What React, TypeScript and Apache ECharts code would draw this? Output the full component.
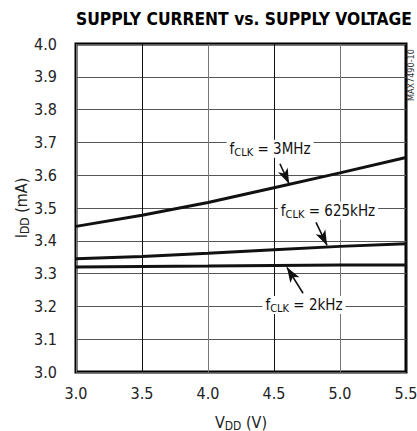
import React, { useEffect, useRef } from "react";
import * as echarts from "echarts";

const vdd = [3.0, 3.5, 4.0, 4.5, 5.0, 5.5];
const i3MHz = [3.444, 3.478, 3.517, 3.562, 3.607, 3.654];
const i625kHz = [3.345, 3.352, 3.362, 3.373, 3.383, 3.391];
const i2kHz = [3.32, 3.322, 3.323, 3.325, 3.326, 3.326];
const seriesNames = ["3MHz", "625kHz", "2kHz"];
// annotation anchors in data units: [labelV, labelI, arrowFromV, arrowFromI, arrowToV, arrowToI]
const annotations = [
  [4.47, 3.681, 4.545, 3.635, 4.614, 3.574],
  [4.909, 3.492, 4.818, 3.456, 4.902, 3.386],
  [4.727, 3.204, 4.72, 3.24, 4.598, 3.319],
];

const FONT = "'DejaVu Sans Condensed', 'Liberation Sans', sans-serif";

export default function App() {
  const ref = useRef<HTMLDivElement>(null);
  useEffect(() => {
    document.body.style.margin = "0";
    const chart = echarts.init(ref.current!, null, { renderer: "svg" });
    const rich = {
      a: { fontSize: 15, fontFamily: FONT, color: "#111", lineHeight: 18 },
      b: { fontSize: 11, fontFamily: FONT, color: "#111", lineHeight: 18, padding: [7, 0, 0, 0] },
    };
    const datasets = [i3MHz, i625kHz, i2kHz];
    const series: any[] = datasets.map((vals, k) => {
      const a = annotations[k];
      return {
        type: "line",
        name: seriesNames[k],
        data: vdd.map((v, j) => [v, vals[j]]),
        showSymbol: false,
        lineStyle: { color: "#111", width: 3 },
        z: 3,
        markLine: {
          silent: true,
          symbol: ["none", "arrow"],
          symbolSize: [8, 15],
          lineStyle: { color: "#111", width: 1.6, type: "solid" },
          label: { show: false },
          data: [[{ coord: [a[2], a[3]] }, { coord: [a[4], a[5]] }]],
        },
        markPoint: {
          silent: true,
          symbol: "circle",
          symbolSize: 1,
          itemStyle: { color: "rgba(0,0,0,0)" },
          label: {
            show: true,
            position: "inside",
            backgroundColor: "#fff",
            padding: [0, 3, 0, 3],
            formatter: `{a|f}{b|CLK}{a| = ${seriesNames[k]}}`,
            rich,
          },
          data: [{ coord: [a[0], a[1]] }],
        },
      };
    });
    const nameRich = {
      a: { fontSize: 16, fontFamily: FONT, color: "#222", lineHeight: 20 },
      b: { fontSize: 12, fontFamily: FONT, color: "#222", lineHeight: 20, padding: [7, 0, 0, 0] },
    };
    chart.setOption({
      animation: false,
      title: {
        text: "SUPPLY CURRENT vs. SUPPLY VOLTAGE",
        left: 239,
        textAlign: "center",
        top: 5,
        textStyle: { fontFamily: "'DejaVu Sans Condensed', sans-serif", fontWeight: "bold", fontSize: 17.3, color: "#000" },
      },
      grid: {
        left: 76, right: 11, top: 44, bottom: 59,
        show: true, borderColor: "#000", borderWidth: 3, backgroundColor: "#fff",
        outerBoundsMode: "none", containLabel: false,
      },
      xAxis: {
        type: "value",
        min: 3,
        max: 5.5,
        interval: 0.5,
        axisLine: { show: false },
        axisTick: { show: false },
        splitLine: { show: true, lineStyle: { color: ["#777", "#111"], width: 1 } },
        axisLabel: { color: "#222", fontFamily: FONT, fontSize: 16, margin: 13, formatter: (v: number) => v.toFixed(1) },
        name: "{a|V}{b|DD}{a| (V)}",
        nameLocation: "middle",
        nameGap: 40,
        nameMoveOverlap: false,
        nameTextStyle: { rich: nameRich },
      },
      yAxis: {
        type: "value",
        min: 3,
        max: 4,
        interval: 0.1,
        axisLine: { show: false },
        axisTick: { show: false },
        splitLine: { show: true, lineStyle: { color: "#555", width: 1 } },
        axisLabel: { color: "#222", fontFamily: FONT, fontSize: 16, margin: 19, padding: [6, 0, 0, 0], formatter: (v: number) => v.toFixed(1) },
        name: "{a|I}{b|DD}{a| (mA)}",
        nameLocation: "middle",
        nameRotate: 90,
        nameGap: 45,
        nameMoveOverlap: false,
        nameTextStyle: { rich: nameRich },
      },
      graphic: [
        {
          type: "text",
          x: 411,
          y: 101,
          rotation: Math.PI / 2,
          style: { text: "MAX7490-10", fontSize: 9, fontFamily: FONT, fill: "#333", align: "left", verticalAlign: "middle" },
        },
      ],
      series,
    });
    return () => chart.dispose();
  }, []);
  return <div ref={ref} style={{ width: 417, height: 431 }} />;
}
